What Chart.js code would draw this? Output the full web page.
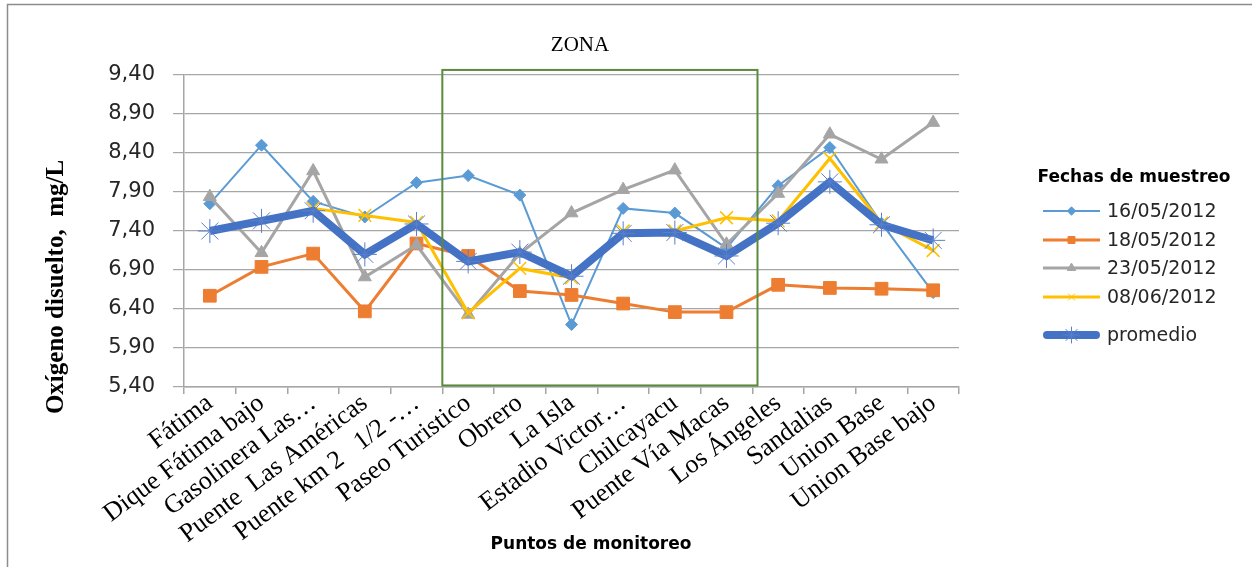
<!DOCTYPE html>
<html>
<head>
<meta charset="utf-8">
<script src="https://cdn.jsdelivr.net/npm/chart.js@4/dist/chart.umd.min.js"></script>
<style>
  html, body { margin: 0; padding: 0; background: #fff; }
  #wrap { width: 1252px; height: 567px; position: relative; }
</style>
</head>
<body>
<div id="wrap"><canvas id="chart"></canvas></div>
<script>
// Puntos de monitoreo (eje X)
const puntos = [
  "Fátima", "Dique Fátima bajo", "Gasolinera Las…", "Puente  Las Américas",
  "Puente km 2   1/2 -…", "Paseo Turistico", "Obrero", "La Isla",
  "Estadio Victor…", "Chilcayacu", "Puente Vía Macas", "Los Ángeles",
  "Sandalias", "Union Base", "Union Base bajo"
];

// Oxígeno disuelto (mg/L) por fecha de muestreo
const m16_05 = [7.75, 8.50, 7.78, 7.58, 8.02, 8.11, 7.86, 6.20, 7.69, 7.63, 7.18, 7.98, 8.47, 7.50, 6.61];
const m18_05 = [6.57, 6.94, 7.11, 6.37, 7.24, 7.08, 6.63, 6.58, 6.47, 6.36, 6.36, 6.71, 6.67, 6.66, 6.64];
const m23_05 = [7.84, 7.12, 8.17, 6.81, 7.22, 6.33, 7.11, 7.63, 7.93, 8.18, 7.23, 7.88, 8.64, 8.32, 8.79];
const m08_06 = [null, null, 7.69, 7.60, 7.51, 6.35, 6.92, 6.80, 7.40, 7.40, 7.57, 7.53, 8.33, 7.50, 7.15];
const promedio = [7.40, 7.53, 7.66, 7.10, 7.49, 7.01, 7.13, 6.82, 7.37, 7.38, 7.08, 7.50, 8.03, 7.48, 7.28];

// eje Y
const yMin = 5.40;
const yMax = 9.40;
const yStep = 0.5;

// zona marcada (en indices de categoria / valores)
const zonaDesde = 4.5;
const zonaHasta = 10.6;

const gridColor = "#a6a6a6";

function serie(label, data, color, width, style, radius, order) {
  return {
    label: label,
    data: data,
    borderColor: color,
    backgroundColor: color,
    borderWidth: width,
    pointStyle: style,
    pointRadius: radius,
    pointHoverRadius: radius,
    pointBackgroundColor: color,
    pointBorderColor: color,
    pointBorderWidth: 1,
    tension: 0,
    order: order
  };
}

const datasets = [
  serie("16/05/2012", m16_05, "#5B9BD5", 2, "rectRot", 6, 4),
  serie("18/05/2012", m18_05, "#ED7D31", 3, "rect", 9, 3),
  serie("23/05/2012", m23_05, "#A5A5A5", 3, "triangle", 7.5, 2),
  serie("08/06/2012", m08_06, "#FFC000", 3, "crossRot", 9, 1),
  serie("promedio", promedio, "#4472C4", 8, "star", 12, 0)
];
datasets[4].pointBorderColor = "#5a80cc";
datasets[4].pointBorderWidth = 1;
datasets[3].pointBorderWidth = 1.5;

// Marco, zona, titulos y leyenda
const extras = {
  id: "extras",
  beforeDraw(chart) {
    const ctx = chart.ctx;
    ctx.save();
    ctx.strokeStyle = "#8c8c8c";
    ctx.lineWidth = 1.5;
    ctx.beginPath();
    ctx.moveTo(7.5, 567);
    ctx.lineTo(7.5, 4.5);
    ctx.lineTo(1252, 4.5);
    ctx.stroke();
    ctx.restore();
  },
  afterDatasetsDraw(chart) {
    const ctx = chart.ctx;
    const x = chart.scales.x;
    const y = chart.scales.y;
    const l = x.getPixelForValue(zonaDesde);
    const r = x.getPixelForValue(zonaHasta);
    const t = y.getPixelForValue(9.465);
    const b = y.getPixelForValue(5.42);
    ctx.save();
    ctx.strokeStyle = "#5a8a3c";
    ctx.lineWidth = 2;
    ctx.strokeRect(l, t, r - l, b - t);
    ctx.restore();
  },
  afterDraw(chart) {
    const ctx = chart.ctx;
    ctx.save();
    ctx.fillStyle = "#000";

    // titulo de la zona
    ctx.font = "21px 'Liberation Serif'";
    ctx.textAlign = "center";
    ctx.textBaseline = "middle";
    ctx.fillText("ZONA", 580, 45);

    // titulo eje Y
    ctx.save();
    ctx.translate(63, 287);
    ctx.rotate(-Math.PI / 2);
    ctx.font = "bold 25px 'Liberation Serif'";
    ctx.textBaseline = "alphabetic";
    ctx.fillText("Oxígeno disuelto,  mg/L", 0, 0);
    ctx.restore();

    // titulo eje X
    ctx.font = "bold 17px 'DejaVu Sans'";
    ctx.textBaseline = "middle";
    ctx.fillText("Puntos de monitoreo", 591, 545);

    // leyenda
    ctx.font = "bold 17px 'DejaVu Sans'";
    ctx.fillText("Fechas de muestreo", 1134, 178);
    const filas = [211, 240, 268, 297, 335];
    ctx.font = "19px 'DejaVu Sans'";
    ctx.textAlign = "left";
    chart.data.datasets.forEach((ds, i) => {
      const yy = filas[i];
      ctx.strokeStyle = ds.borderColor;
      ctx.lineWidth = ds.borderWidth;
      ctx.lineCap = i === 4 ? "round" : "butt";
      ctx.beginPath();
      ctx.moveTo(i === 4 ? 1047 : 1043, yy);
      ctx.lineTo(i === 4 ? 1096 : 1100, yy);
      ctx.stroke();
      ctx.fillStyle = ds.pointBackgroundColor;
      ctx.strokeStyle = ds.pointBorderColor;
      ctx.lineWidth = 1;
      Chart.helpers.drawPoint(ctx, {
        pointStyle: ds.pointStyle,
        radius: i === 4 ? 8 : Math.min(ds.pointRadius, 7) * 0.7,
        borderWidth: 1,
        rotation: 0
      }, 1071.5, yy);
      ctx.fillStyle = "#262626";
      ctx.fillText(ds.label, 1107, yy + 1);
    });
    ctx.restore();
  }
};

new Chart(document.getElementById("chart"), {
  type: "line",
  data: { labels: puntos, datasets: datasets },
  plugins: [extras],
  options: {
    responsive: true,
    maintainAspectRatio: false,
    animation: false,
    layout: { padding: { left: 0, top: 75, right: 293, bottom: 0 } },
    plugins: {
      legend: { display: false },
      title: { display: false },
      tooltip: { enabled: false }
    },
    scales: {
      x: {
        offset: true,
        afterFit: (scale) => { scale.height = 180; },
        border: { display: true, color: gridColor, width: 1.5 },
        grid: { offset: true, drawOnChartArea: false, drawTicks: true, tickLength: 7, color: gridColor, lineWidth: 1.5 },
        ticks: {
          autoSkip: false,
          minRotation: 37,
          maxRotation: 37,
          padding: -6,
          color: "#000",
          font: { family: "'Liberation Serif'", size: 26 }
        }
      },
      y: {
        min: yMin,
        max: yMax,
        afterFit: (scale) => { scale.width = 184; },
        border: { display: true, color: gridColor, width: 1.5 },
        grid: { color: gridColor, lineWidth: 1.2, tickLength: 11 },
        ticks: {
          stepSize: yStep,
          padding: 18,
          color: "#262626",
          font: { family: "'DejaVu Sans'", size: 21 },
          callback: (v) => v.toFixed(2).replace(".", ",")
        }
      }
    }
  }
});
</script>
</body>
</html>
